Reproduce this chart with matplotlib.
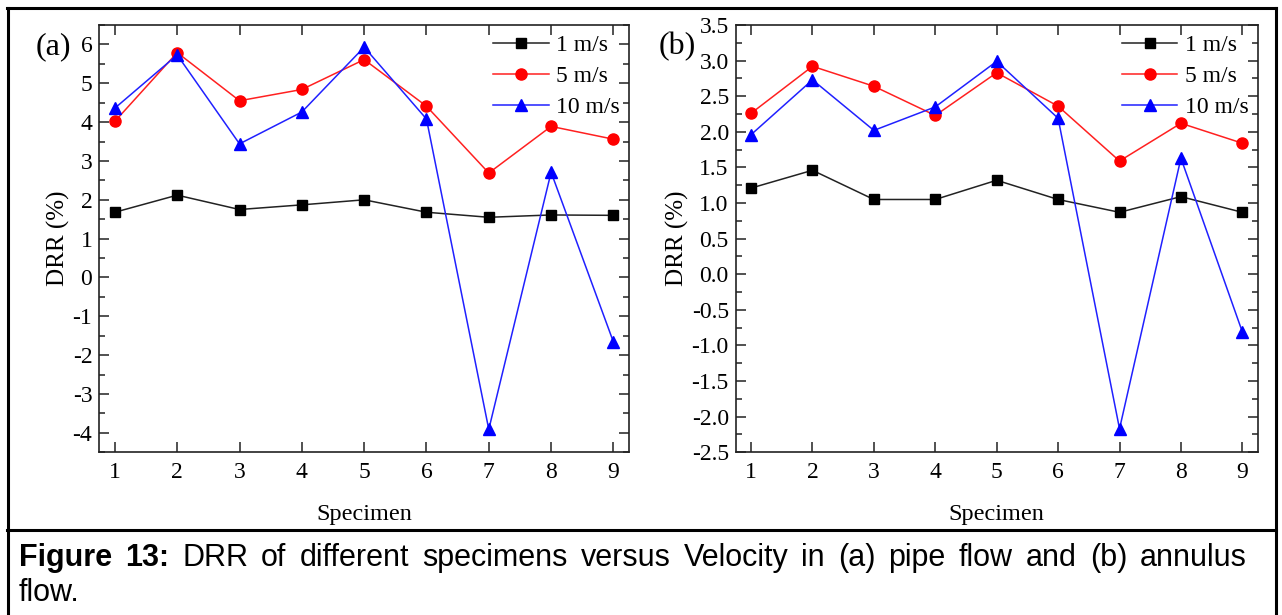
import numpy as np
import matplotlib.pyplot as plt
import matplotlib as mpl
from matplotlib.ticker import MultipleLocator
from matplotlib.lines import Line2D

specimen = [1, 2, 3, 4, 5, 6, 7, 8, 9]
labels = ['1 m/s', '5 m/s', '10 m/s']

# (a) pipe flow
pipe_1 = [1.68, 2.12, 1.75, 1.87, 2.00, 1.68, 1.55, 1.61, 1.60]
pipe_5 = [4.02, 5.79, 4.55, 4.84, 5.61, 4.41, 2.69, 3.89, 3.56]
pipe_10 = [4.36, 5.73, 3.44, 4.26, 5.93, 4.08, -3.91, 2.71, -1.66]

# (b) annulus flow
ann_1 = [1.21, 1.46, 1.05, 1.05, 1.32, 1.05, 0.87, 1.09, 0.87]
ann_5 = [2.26, 2.92, 2.64, 2.23, 2.83, 2.36, 1.59, 2.12, 1.84]
ann_10 = [1.96, 2.73, 2.02, 2.35, 2.99, 2.19, -2.17, 1.63, -0.81]

caption_bold = ['Figure', '13:']
caption_line1 = 'DRR of different specimens versus Velocity in (a) pipe flow and (b) annulus'.split()
caption_line2 = 'flow.'

mpl.rcParams['font.family'] = ['Liberation Serif', 'DejaVu Serif']

fig = plt.figure(figsize=(12.82, 6.15), dpi=100)
W, H = 1282.0, 615.0


def panel(rect, y1, y5, y10, ylim, major, minor, fmt, tag, tagx):
    ax = fig.add_axes(rect)
    ax.plot(specimen, y1, color='#222222', lw=1.1, marker='s', ms=6.5, mfc='black', mec='black', label=labels[0])
    ax.plot(specimen, y5, color='#ff2020', lw=1.1, marker='o', ms=8, mfc='red', mec='red', label=labels[1])
    ax.plot(specimen, y10, color='#2020ff', lw=1.1, marker='^', ms=8.5, mfc='blue', mec='blue', label=labels[2])
    ax.set_xlim(0.75, 9.25)
    ax.set_ylim(*ylim)
    ax.set_xticks(specimen)
    ax.yaxis.set_major_locator(MultipleLocator(major))
    ax.yaxis.set_minor_locator(MultipleLocator(minor))
    ax.yaxis.set_major_formatter(mpl.ticker.FormatStrFormatter(fmt))
    ax.tick_params(which='both', direction='in', top=True, right=True, labelsize=17, colors='#222222',
                   labelcolor='black', width=1.1)
    ax.tick_params(which='major', length=7)
    ax.tick_params(which='minor', length=4)
    ax.tick_params(axis='x', pad=7)
    ax.tick_params(axis='y', pad=5)
    for s in ax.spines.values():
        s.set_linewidth(1.2)
        s.set_color('#222222')
    ax.set_xlabel('Specimen', fontsize=17.5, labelpad=15)
    ax.set_ylabel('DRR (%)', fontsize=18, labelpad=2)
    ax.legend(loc='upper right', frameon=False, fontsize=17, handlelength=2.35, handletextpad=0.3,
              labelspacing=0.4, borderaxespad=0.0, bbox_to_anchor=(1.0, 1.0))
    fig.text(tagx / W, 1 - 47 / H, tag, fontsize=23, va='center', ha='left')
    return ax


axa = panel([99.3 / W, 1 - 452.3 / H, 529.7 / W, 427.3 / H], pipe_1, pipe_5, pipe_10,
            (-4.5, 6.5), 1, 0.5, '%g', '(a)', 36)
axb = panel([735.7 / W, 1 - 452.3 / H, 522 / W, 427.3 / H], ann_1, ann_5, ann_10,
            (-2.5, 3.5), 0.5, 0.25, '%.1f', '(b)', 659)

# frame around figure and caption
bc = 'black'
lw = 2.2
fig.add_artist(Line2D([7 / W, 1276 / W], [1 - 7.5 / H] * 2, color=bc, lw=lw))
fig.add_artist(Line2D([7 / W, 1276 / W], [1 - 530 / H] * 2, color=bc, lw=lw))
fig.add_artist(Line2D([7.5 / W] * 2, [0, 1 - 7.5 / H], color=bc, lw=lw))
fig.add_artist(Line2D([1276 / W] * 2, [0, 1 - 7.5 / H], color=bc, lw=lw))

# justified caption, first line stretched between x=19 and x=1247
cap = ['Liberation Sans', 'DejaVu Sans']
base1 = 1 - 566 / H
words = [(w, 'bold') for w in caption_bold] + [(w, 'normal') for w in caption_line1]
texts = [fig.text(0, base1, w, fontsize=22, fontweight=fw, family=cap, va='baseline') for w, fw in words]
fig.canvas.draw()
r = fig.canvas.get_renderer()
widths = [t.get_window_extent(r).width for t in texts]
x0, x1 = 19.0, 1247.0
gap = (x1 - x0 - sum(widths)) / (len(texts) - 1)
x = x0
for t, w in zip(texts, widths):
    t.set_x(x / W)
    x += w + gap
fig.text(19 / W, 1 - 601 / H, caption_line2, fontsize=22, family=cap, va='baseline')

fig.savefig('out.png', dpi=100)
